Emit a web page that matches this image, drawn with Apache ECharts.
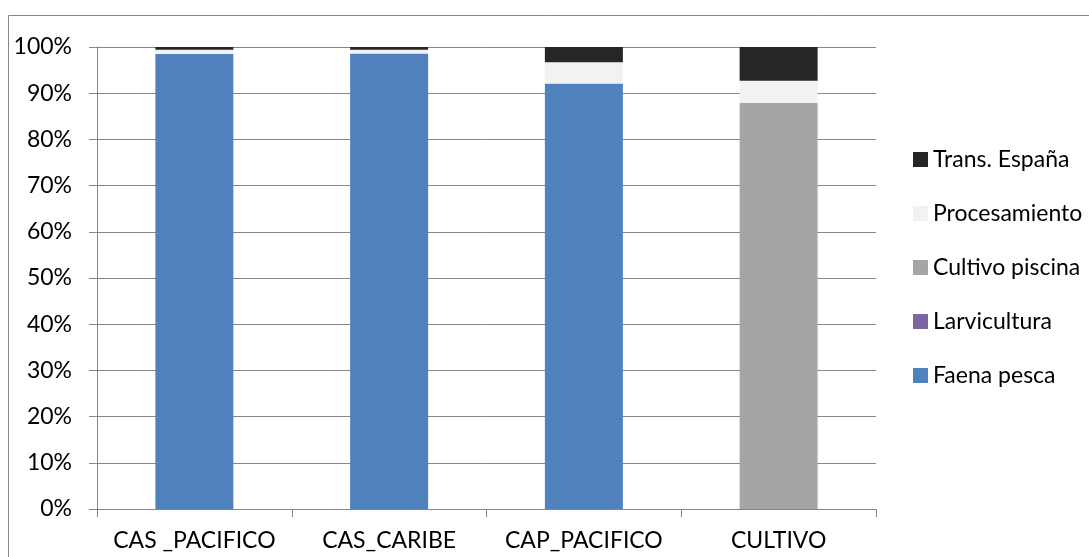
<!DOCTYPE html>
<html>
<head>
<meta charset="utf-8">
<script src="https://cdn.jsdelivr.net/npm/echarts@6/dist/echarts.min.js"></script>
<style>
  html, body { margin: 0; padding: 0; background: #fff; }
  #chart { width: 1089px; height: 557px; }
</style>
</head>
<body>
<div id="chart"></div>
<script>
// Categories (x axis)
const categories = ['CAS _PACIFICO', 'CAS_CARIBE', 'CAP_PACIFICO', 'CULTIVO'];

// Share of each stage, percent of total per category
const faenaPesca     = [98.5, 98.6, 92.1, 0];
const larvicultura   = [0, 0, 0, 0];
const cultivoPiscina = [0, 0, 0, 87.9];
const procesamiento  = [0.9, 0.8, 4.6, 4.8];
const transEspana    = [0.6, 0.6, 3.3, 7.3];

// Y axis ticks
const yTicks = [0, 10, 20, 30, 40, 50, 60, 70, 80, 90, 100];

const font = 'Lato, "Open Sans", sans-serif';
const axisGray = '#868686';

const stack = (name, data, color) => ({
  name, type: 'bar', stack: 'total', data,
  barWidth: 78,
  itemStyle: { color },
  emphasis: { disabled: true }
});

const chart = echarts.init(document.getElementById('chart'), null, { renderer: 'canvas' });
chart.setOption({
  animation: false,
  backgroundColor: '#fff',
  graphic: [{
    type: 'rect',
    shape: { x: 8.5, y: 15.5, width: 1100, height: 560 },
    style: { fill: 'none', stroke: axisGray, lineWidth: 1 },
    silent: true
  }],
  grid: { left: 97, right: 213, top: 47, bottom: 48 },
  legend: {
    orient: 'vertical',
    left: 908, top: 143,
    itemWidth: 15, itemHeight: 15, itemGap: 31,
    icon: 'rect',
    data: ['Trans. España', 'Procesamiento', 'Cultivo piscina', 'Larvicultura', 'Faena pesca'],
    textStyle: { fontFamily: font, fontSize: 23, lineHeight: 22, color: '#000' },
    selectedMode: false
  },
  xAxis: {
    type: 'category',
    data: categories,
    axisLine: { lineStyle: { color: axisGray, width: 1 } },
    axisTick: { show: true, length: 8, interval: 0, alignWithLabel: false, lineStyle: { color: axisGray } },
    axisLabel: { interval: 0, fontFamily: font, fontSize: 23, color: '#000', margin: 20 }
  },
  yAxis: {
    type: 'value',
    min: yTicks[0], max: yTicks[yTicks.length - 1], interval: 10,
    axisLine: { show: true, lineStyle: { color: axisGray, width: 1 } },
    axisTick: { show: true, length: 8, inside: false, lineStyle: { color: axisGray } },
    splitLine: { lineStyle: { color: axisGray, width: 1 } },
    axisLabel: {
      fontFamily: font, fontSize: 23, color: '#000', margin: 25,
      formatter: v => v + '%'
    }
  },
  series: [
    stack('Faena pesca', faenaPesca, '#4F81BD'),
    stack('Larvicultura', larvicultura, '#8064A2'),
    stack('Cultivo piscina', cultivoPiscina, '#A5A5A5'),
    stack('Procesamiento', procesamiento, '#F2F2F2'),
    stack('Trans. España', transEspana, '#262626')
  ]
});
</script>
</body>
</html>
